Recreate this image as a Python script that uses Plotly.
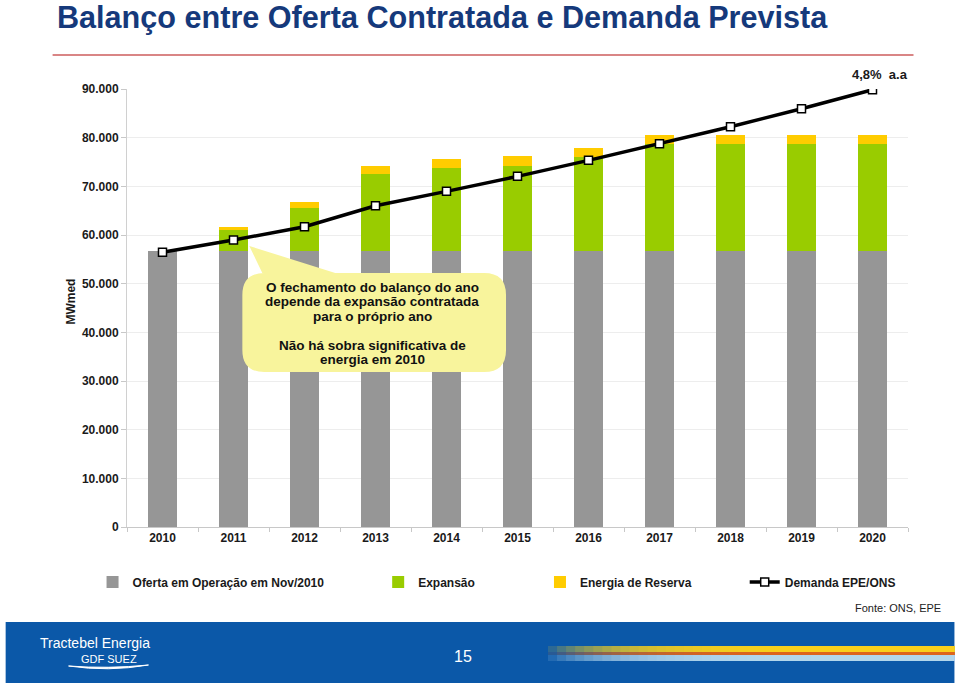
import plotly.graph_objects as go

# ---------------- data ----------------
anos = ["2010", "2011", "2012", "2013", "2014", "2015", "2016", "2017", "2018", "2019", "2020"]
oferta_operacao = [56700, 56700, 56700, 56700, 56700, 56700, 56700, 56700, 56700, 56700, 56700]
expansao = [0, 4300, 8900, 15770, 17130, 17470, 19380, 21900, 21900, 21900, 21900]
energia_reserva = [0, 650, 1240, 1770, 1850, 2060, 1720, 1910, 1910, 1910, 1910]
demanda = [56440, 58970, 61700, 66020, 68970, 72050, 75340, 78760, 82250, 85950, 89850]
y_ticks = [0, 10000, 20000, 30000, 40000, 50000, 60000, 70000, 80000, 90000]

W, H = 960, 686
# plot area in page pixels
PL, PR, PT, PB = 126.5, 908.5, 89, 527
ML, MR, MT, MB = PL, W - PR, PT, H - PB
PW = PR - PL
PH = PB - PT


def px(x):
    return (x - PL) / PW


def py(y):
    return (PB - y) / PH


FONT = "Arial, Liberation Sans, sans-serif"
bold12 = dict(family=FONT, size=12, color="#1a1a1a", weight="bold")

fig = go.Figure()
fig.add_trace(go.Bar(x=anos, y=oferta_operacao, name="Oferta em Operação em Nov/2010",
                     marker=dict(color="#969696", line_width=0), legend="legend"))
fig.add_trace(go.Bar(x=anos, y=expansao, name="Expansão",
                     marker=dict(color="#99CC00", line_width=0), legend="legend2"))
fig.add_trace(go.Bar(x=anos, y=energia_reserva, name="Energia de Reserva",
                     marker=dict(color="#FFCC00", line_width=0), legend="legend3"))
fig.add_trace(go.Scatter(x=anos, y=demanda, name="Demanda EPE/ONS", mode="lines+markers",
                         line=dict(color="black", width=3.5),
                         marker=dict(symbol="square", size=8, color="white",
                                     line=dict(color="black", width=1.5)),
                         legend="legend4"))

leg_common = dict(orientation="h", yanchor="middle", y=py(582), xanchor="left",
                  font=bold12, bgcolor="rgba(0,0,0,0)", itemwidth=30, visible=True)

shapes = []
# red line under title
shapes.append(dict(type="line", xref="paper", yref="paper", x0=px(52), x1=px(914),
                   y0=py(55), y1=py(55), line=dict(color="#D98585", width=2)))

# callout bubble
bx0, bx1, by0, by1, r = 242, 506, 273, 372, 22
tipx, tipy = 249, 246
path = (f"M {px(bx0 + r)},{py(by0)} "
        f"L {px(262)},{py(by0)} L {px(tipx)},{py(tipy)} L {px(335)},{py(by0)} "
        f"L {px(bx1 - r)},{py(by0)} "
        f"Q {px(bx1)},{py(by0)} {px(bx1)},{py(by0 + r)} "
        f"L {px(bx1)},{py(by1 - r)} "
        f"Q {px(bx1)},{py(by1)} {px(bx1 - r)},{py(by1)} "
        f"L {px(bx0 + r)},{py(by1)} "
        f"Q {px(bx0)},{py(by1)} {px(bx0)},{py(by1 - r)} "
        f"L {px(bx0)},{py(by0 + r)} "
        f"Q {px(bx0)},{py(by0)} {px(bx0 + r)},{py(by0)} Z")
shapes.append(dict(type="path", xref="paper", yref="paper", path=path,
                   fillcolor="#F8F49C", line=dict(width=0), layer="above"))

# footer band
shapes.append(dict(type="rect", xref="paper", yref="paper", x0=px(5), x1=px(955),
                   y0=py(683), y1=py(622), fillcolor="#0B58A8", line=dict(width=0),
                   layer="above"))
# gradient streak: overlapping translucent strips that build up towards the right
n = 30
x_start, x_full, x_end = 548, 820, 955
bands = [(646, 652, "#FFD21A"), (652, 655, "#E06A1A"), (655, 661, "#B9DDF2")]
for i in range(n):
    x0 = x_start + (x_full - x_start) * i / n
    for (ya, yb, col) in bands:
        shapes.append(dict(type="rect", xref="paper", yref="paper", x0=px(x0), x1=px(x_end),
                           y0=py(yb), y1=py(ya), fillcolor=col, line=dict(width=0),
                           opacity=0.14, layer="above"))
# logo swoosh
shapes.append(dict(type="path", xref="paper", yref="paper",
                   path=(f"M {px(68)},{py(666)} Q {px(108)},{py(672)} {px(148)},{py(665)} "
                         f"Q {px(108)},{py(669)} {px(68)},{py(666)} Z"),
                   fillcolor="white", line=dict(color="white", width=1), layer="above"))

annotations = [
    dict(text="Balanço entre Oferta Contratada e Demanda Prevista", xref="paper", yref="paper",
         x=px(54), y=py(17), xanchor="left", yanchor="middle", showarrow=False,
         font=dict(family=FONT, size=30.6, color="#15397B", weight="bold")),
    dict(text="MWmed", xref="paper", yref="paper", x=px(70), y=py(302), textangle=-90,
         xanchor="center", yanchor="middle", showarrow=False, font=bold12),
    dict(text="4,8%  a.a", xref="paper", yref="paper", x=px(911), y=py(75),
         xanchor="right", yanchor="middle", showarrow=False,
         font=dict(family=FONT, size=13, color="#1a1a1a", weight="bold")),
    dict(text="Fonte: ONS, EPE", xref="paper", yref="paper", x=px(944), y=py(608),
         xanchor="right", yanchor="middle", showarrow=False,
         font=dict(family=FONT, size=11, color="#222222")),
    dict(text="15", xref="paper", yref="paper", x=px(463), y=py(656),
         xanchor="center", yanchor="middle", showarrow=False,
         font=dict(family=FONT, size=16, color="white")),
    dict(text="Tractebel Energia", xref="paper", yref="paper", x=px(37), y=py(643),
         xanchor="left", yanchor="middle", showarrow=False,
         font=dict(family=FONT, size=14, color="white")),
    dict(text="GDF SUEZ", xref="paper", yref="paper", x=px(108), y=py(659),
         xanchor="center", yanchor="middle", showarrow=False,
         font=dict(family=FONT, size=11, color="white")),
]

callout_lines = [
    ("O fechamento do balanço do ano", 287),
    ("depende da expansão contratada", 301.5),
    ("para o próprio ano", 316),
    ("Não há sobra significativa de", 345),
    ("energia em 2010", 359.5),
]
for txt, yy in callout_lines:
    annotations.append(dict(text=txt, xref="paper", yref="paper", x=px(372), y=py(yy),
                            xanchor="center", yanchor="middle", showarrow=False,
                            font=dict(family=FONT, size=13.5, color="#111111", weight="bold")))

fig.update_layout(
    width=W, height=H,
    margin=dict(l=ML, r=MR, t=MT, b=MB, autoexpand=False),
    paper_bgcolor="white", plot_bgcolor="white",
    barmode="stack", bargap=0.59,
    separators=",.",
    showlegend=True,
    hovermode=False,
    font=dict(family=FONT, color="#1a1a1a"),
    xaxis=dict(type="category", range=[-0.5, 10.5], showline=True, linecolor="#C8C8C8",
               linewidth=1, ticks="outside", tickson="boundaries", ticklen=4,
               tickcolor="#C8C8C8", tickfont=bold12, showgrid=False, fixedrange=True),
    yaxis=dict(range=[0, 90000], tickvals=y_ticks, tickformat=",d", showline=True,
               linecolor="#D0D0D0", linewidth=1, ticks="outside", ticklen=5,
               tickcolor="#C8C8C8", tickfont=bold12, showgrid=True, gridcolor="#EDEDED",
               gridwidth=1, zeroline=False, fixedrange=True),
    legend=dict(leg_common, x=px(92)),
    legend2=dict(leg_common, x=px(378)),
    legend3=dict(leg_common, x=px(540)),
    legend4=dict(leg_common, x=px(745)),
    shapes=shapes,
    annotations=annotations,
)

fig.write_html("out.html", config={"displayModeBar": False},
               post_script="document.body.style.margin='0';document.body.style.overflow='hidden';")
